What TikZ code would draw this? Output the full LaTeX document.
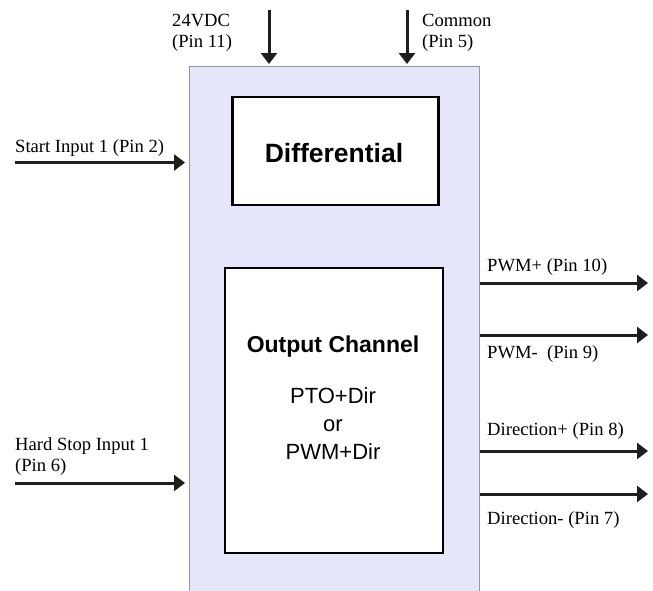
\documentclass[tikz,border=0pt]{standalone}
\usepackage{fontspec}
\setmainfont{Liberation Serif}
\newfontfamily\arialfont{Liberation Sans}
\usetikzlibrary{arrows.meta}
\definecolor{panelfill}{RGB}{230,230,250}
\definecolor{panelline}{RGB}{150,150,160}
\definecolor{wire}{RGB}{30,30,30}
\tikzset{
  sig/.style={draw=wire, line width=3pt, -{Triangle[length=11pt,width=16pt]}},
  pinlabel/.style={font=\fontsize{18.6}{20.5}\selectfont, inner sep=0pt, align=left, anchor=base west},
  block/.style={draw=black, line width=2.5pt, fill=white, inner sep=0pt},
}
\begin{document}
\begin{tikzpicture}[x=1pt,y=-1pt]
\useasboundingbox (0,0) rectangle (653,590);
% module body
\path[fill=panelfill, draw=panelline, line width=1pt] (189,66) rectangle (479,600);
\node[block, minimum width=206pt, minimum height=108pt] (diff) at (335.5,151) {};
\node[font=\arialfont\bfseries\fontsize{26.5}{30}\selectfont, anchor=base] (difft) at (334,162) {Differential};
\node[block, minimum width=218pt, minimum height=285pt] (out) at (334,410.5) {};
\node[font=\arialfont\bfseries\fontsize{23}{27}\selectfont, anchor=base] (outt) at (333,352) {Output Channel};
% multi-line nodes: base anchor sits on the last line
\node[font=\arialfont\fontsize{22}{28}\selectfont, align=center, anchor=base] (mode) at (333,459) {PTO+Dir\\or\\PWM+Dir};
% supply pins
\coordinate (vin) at (269,10);
\coordinate (vend) at (269,64);
\coordinate (cin) at (407,10);
\coordinate (cend) at (407,64);
\draw[sig] (vin) -- (vend);
\draw[sig] (cin) -- (cend);
\node[pinlabel] (vlab) at (172,47) {24VDC\\(Pin 11)};
\node[pinlabel] (clab) at (422,47) {Common\\(Pin 5)};
% inputs
\coordinate (sin) at (15,162.5);
\coordinate (send) at (185,162.5);
\coordinate (hin) at (15,483);
\coordinate (hend) at (185,483);
\draw[sig] (sin) -- (send);
\draw[sig] (hin) -- (hend);
\node[pinlabel] (slab) at (15,152.5) {Start Input 1 (Pin 2)};
\node[pinlabel] (hlab) at (15,471) {Hard Stop Input 1\\(Pin 6)};
% outputs
\foreach \y/\n in {283/a,335/b,451/c,494/d}{
  \coordinate (o\n) at (480,\y);
  \coordinate (e\n) at (648,\y);
  \draw[sig] (o\n) -- (e\n);
}
\node[pinlabel] (la) at (487,271.5) {PWM+ (Pin 10)};
\node[pinlabel] (lb) at (487,358) {PWM-\ \ (Pin 9)};
\node[pinlabel] (lc) at (487,435) {Direction+ (Pin 8)};
\node[pinlabel] (ld) at (487,524) {Direction- (Pin 7)};
\end{tikzpicture}
\end{document}
